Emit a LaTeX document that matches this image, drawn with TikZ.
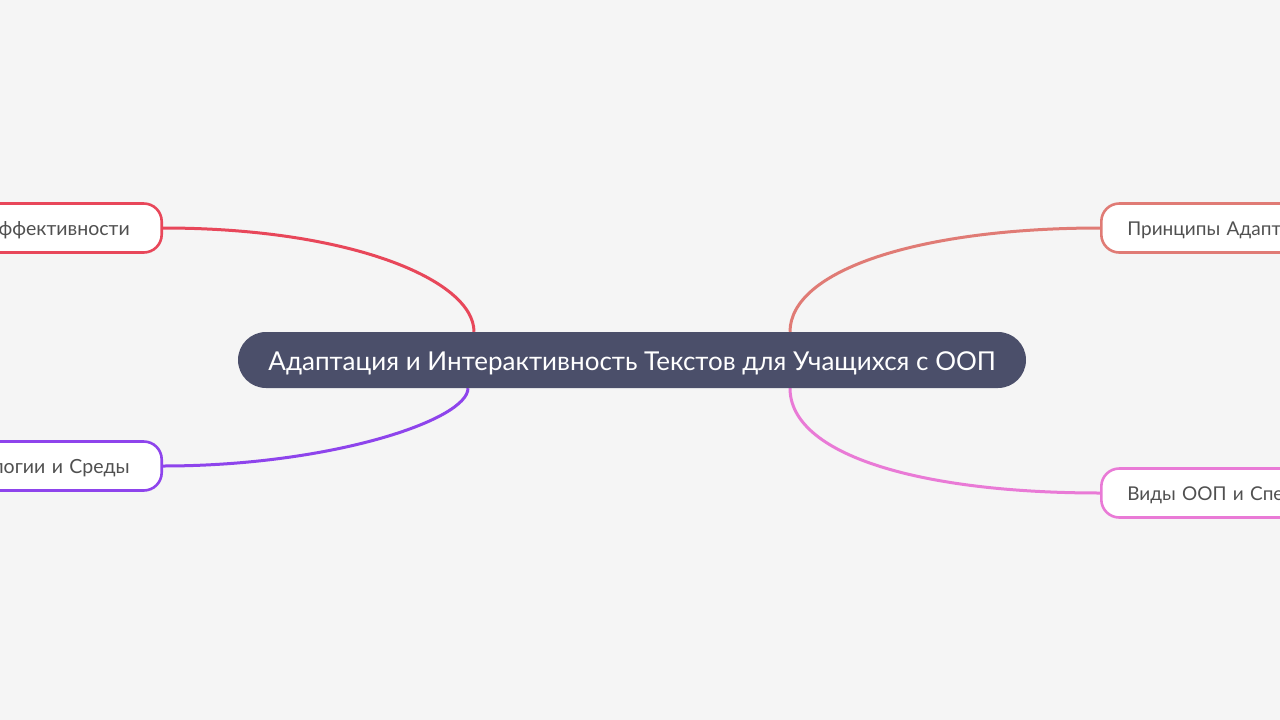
\documentclass[tikz,border=0pt]{standalone}
\usepackage{fontspec}
\setmainfont{Lato}
\usetikzlibrary{calc}
\pgfdeclarelayer{bg}
\pgfsetlayers{bg,main}
\definecolor{bgc}{HTML}{F5F5F5}
\definecolor{centc}{HTML}{4B4F6A}
\definecolor{cred}{HTML}{E8475A}
\definecolor{cpurp}{HTML}{8E44EC}
\definecolor{csalm}{HTML}{E07B75}
\definecolor{cpink}{HTML}{E97AD6}
\definecolor{txtg}{HTML}{505050}
\newcommand{\lowtxt}[2]{\raisebox{-#1}[0pt][0pt]{#2}}
\tikzset{
  centnode/.style={fill=centc, text=white, rounded corners=28pt, minimum width=788pt, minimum height=56pt, inner sep=0pt, font=\fontsize{26}{30}\selectfont},
  leafL/.style={draw=#1, fill=white, line width=2.6pt, rounded corners=18pt, minimum height=49pt, text width=220pt, align=right, inner xsep=32pt, inner ysep=0pt, text=txtg, font=\fontsize{19.5}{22}\selectfont},
  leafR/.style={draw=#1, fill=white, line width=2.6pt, rounded corners=18pt, minimum height=49pt, text width=220pt, align=left, inner xsep=26pt, inner ysep=0pt, text=txtg, font=\fontsize{19}{22}\selectfont},
  conn/.style={draw=#1, line width=3pt}
}
\begin{document}
\begin{tikzpicture}[x=1pt,y=-1pt]
\clip (0,0) rectangle (1280,720);
\node[centnode] (c) at (632,360) {\lowtxt{10pt}{Адаптация и Интерактивность Текстов для Учащихся с ООП}};
\node[leafL=cred, anchor=east] (tl) at (163,228) {\lowtxt{7.5pt}{ффективности}};
\node[leafL=cpurp, anchor=east] (bl) at (163,466) {\lowtxt{7.5pt}{ологии и Среды}};
\node[leafR=csalm, anchor=west] (tr) at (1100,228) {\lowtxt{7.5pt}{Принципы Адапта}};
\node[leafR=cpink, anchor=west] (br) at (1100,493) {\lowtxt{7.5pt}{Виды ООП и Спец}};
\coordinate (ctl) at ($(c.north)+(-158,0)$);
\coordinate (cbl) at ($(c.south)+(-164,0)$);
\coordinate (ctr) at ($(c.north)+(158,0)$);
\coordinate (cbr) at ($(c.south)+(158,0)$);
\begin{pgfonlayer}{bg}
\fill[bgc] (0,0) rectangle (1280,720);
\draw[conn=cred] (tl.east) .. controls (350,228) and (474,280) .. (ctl);
\draw[conn=cpurp] (bl.east) .. controls (330,466) and (468,420) .. (cbl);
\draw[conn=csalm] (tr.west) .. controls (920,228) and (790,270) .. (ctr);
\draw[conn=cpink] (br.west) .. controls (920,493) and (790,455) .. (cbr);
\end{pgfonlayer}
\end{tikzpicture}
\end{document}
